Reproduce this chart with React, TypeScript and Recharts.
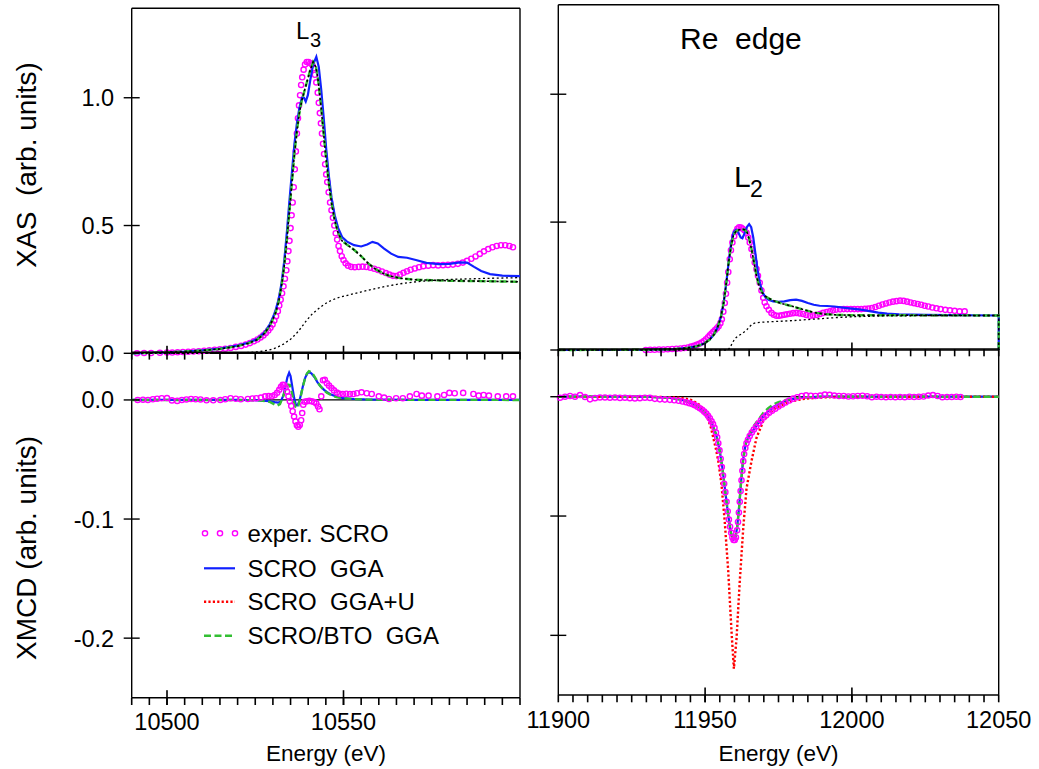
import React from 'react';
import { ComposedChart, Scatter, XAxis, YAxis, ReferenceLine } from 'recharts';

// ---------------------------------------------------------------------------
// Page / style constants
// ---------------------------------------------------------------------------
const W = 1039;
const H = 769;
const FONT = "'Liberation Sans', Arial, Helvetica, sans-serif";
const INK = '#000000';
const MAGENTA = '#ff00ff';
const BLUE = '#1020ff';
const RED = '#ff0000';
const GREEN = '#33bf33';

type Pt = [number, number];

// ---------------------------------------------------------------------------
// Axis ticks and labels
// ---------------------------------------------------------------------------
const range = (a: number, b: number, s: number) => {
  const out: number[] = [];
  for (let v = a; v <= b + 1e-9; v += s) out.push(Math.round(v * 1000) / 1000);
  return out;
};

const l3Domain: [number, number] = [10490, 10600];
const l3Minor = range(10490, 10600, 5);
const l3Major = [10500, 10550];
const l3Labels = [10500, 10550];

const l2Domain: [number, number] = [11900, 12050];
const l2Minor = range(11900, 12050, 5);
const l2Major = [11950, 12000];
const l2Labels = [11900, 11950, 12000, 12050];

const xasDomain: [number, number] = [0, 1.35];
const xasTicks = [0, 0.5, 1.0];
const xmcdDomain: [number, number] = [-0.25, 0.04];
const xmcdTicks = [0, -0.1, -0.2];

// ---------------------------------------------------------------------------
// L3 edge, XAS
// ---------------------------------------------------------------------------
const xasL3Exp: Pt[] = [
  [10491.5, 0.0], [10493.5, 0.001], [10495.5, 0.001], [10498, 0.002], [10500, 0.003],
  [10501.5, 0.003], [10503, 0.004], [10504.5, 0.005], [10506, 0.006], [10507.5, 0.007],
  [10509, 0.008], [10510.5, 0.01], [10512, 0.012], [10513.5, 0.014], [10515, 0.016],
  [10516.5, 0.018], [10518, 0.021], [10519.5, 0.025], [10521, 0.029], [10522.3, 0.034],
  [10523.5, 0.04], [10524.6, 0.047], [10525.6, 0.054], [10526.5, 0.062], [10527.3, 0.07],
  [10528, 0.079], [10528.7, 0.089], [10529.3, 0.1], [10529.9, 0.113], [10530.4, 0.128],
  [10530.9, 0.145], [10531.4, 0.165], [10531.8, 0.187], [10532.2, 0.21], [10532.6, 0.235],
  [10533, 0.262], [10533.4, 0.292], [10533.8, 0.325], [10534.1, 0.36], [10534.4, 0.4],
  [10534.7, 0.44], [10535, 0.49], [10535.3, 0.54], [10535.6, 0.59], [10535.9, 0.65],
  [10536.2, 0.72], [10536.5, 0.79], [10536.8, 0.86], [10537.1, 0.92], [10537.4, 0.97],
  [10537.7, 1.01], [10538, 1.05], [10538.3, 1.08], [10538.7, 1.11], [10539.1, 1.13],
  [10539.6, 1.14], [10540.1, 1.14], [10540.6, 1.135], [10541.1, 1.13], [10541.5, 1.115],
  [10541.9, 1.09], [10542.3, 1.06], [10542.7, 1.02], [10543, 0.98], [10543.3, 0.94],
  [10543.6, 0.9], [10543.9, 0.86], [10544.2, 0.82], [10544.5, 0.78], [10544.8, 0.74],
  [10545.1, 0.7], [10545.4, 0.67], [10545.8, 0.63], [10546.2, 0.59], [10546.6, 0.56],
  [10547, 0.53], [10547.4, 0.5], [10547.8, 0.47], [10548.2, 0.445], [10548.6, 0.42],
  [10549, 0.4], [10549.5, 0.38], [10550, 0.365], [10550.6, 0.352], [10551.3, 0.343],
  [10552.2, 0.338], [10553.2, 0.337], [10554.3, 0.338], [10555.4, 0.339], [10556.5, 0.338],
  [10557.6, 0.335], [10558.7, 0.331], [10559.8, 0.326], [10560.9, 0.32], [10562, 0.314],
  [10563, 0.308], [10564, 0.303], [10565, 0.302], [10566, 0.308], [10567, 0.315],
  [10568, 0.321], [10569, 0.327], [10570.2, 0.332], [10571.4, 0.337], [10572.6, 0.341],
  [10574, 0.343], [10575.4, 0.345], [10576.8, 0.344], [10578.2, 0.345], [10579.6, 0.346],
  [10581, 0.347], [10582.4, 0.35], [10583.8, 0.355], [10585, 0.362], [10586.2, 0.37],
  [10587.4, 0.379], [10588.6, 0.389], [10589.8, 0.399], [10591, 0.408], [10592.2, 0.415],
  [10593.4, 0.42], [10594.6, 0.423], [10595.8, 0.423], [10597, 0.42], [10598, 0.415],
];

const xasL3Gga: Pt[] = [
  [10490, 0], [10495, 0.002], [10500, 0.004], [10505, 0.007], [10510, 0.012], [10515, 0.018],
  [10520, 0.03], [10523, 0.041], [10525.5, 0.056], [10527.5, 0.08], [10529, 0.11], [10530, 0.14],
  [10530.8, 0.17], [10531.6, 0.21], [10532.4, 0.27], [10533.2, 0.36], [10534, 0.48], [10534.7, 0.6],
  [10535.4, 0.71], [10536.1, 0.82], [10536.8, 0.9], [10537.5, 0.96], [10538.2, 1.0], [10538.8, 1.0],
  [10539.3, 0.985], [10539.9, 1.01], [10540.6, 1.07], [10541.4, 1.13], [10542.3, 1.16], [10543, 1.12],
  [10543.7, 1.03], [10544.4, 0.92], [10545.1, 0.8], [10545.8, 0.7], [10546.6, 0.61], [10547.5, 0.54],
  [10548.5, 0.49], [10549.6, 0.455], [10551, 0.437], [10553, 0.423], [10555, 0.418], [10556.7, 0.426],
  [10558.2, 0.436], [10559.7, 0.43], [10561.5, 0.41], [10563.5, 0.39], [10565.5, 0.377], [10568, 0.374],
  [10570.5, 0.365], [10573.5, 0.354], [10577, 0.349], [10580, 0.35], [10583, 0.356], [10585, 0.355],
  [10587, 0.338], [10589, 0.322], [10591.5, 0.31], [10595, 0.304], [10600, 0.302],
];

const xasL3Bto: Pt[] = [
  [10490, 0], [10495, 0.002], [10500, 0.004], [10505, 0.007], [10510, 0.011], [10515, 0.017],
  [10520, 0.028], [10523, 0.039], [10525.5, 0.053], [10527.5, 0.076], [10529, 0.105], [10530, 0.133],
  [10530.8, 0.16], [10531.6, 0.2], [10532.4, 0.26], [10533.2, 0.34], [10534, 0.45], [10534.7, 0.56],
  [10535.4, 0.67], [10536.1, 0.78], [10536.8, 0.87], [10537.5, 0.94], [10538.2, 0.99], [10539, 1.03],
  [10539.8, 1.07], [10540.6, 1.11], [10541.4, 1.14], [10542.2, 1.12], [10542.9, 1.06], [10543.6, 0.97],
  [10544.3, 0.87], [10545, 0.77], [10545.8, 0.67], [10546.6, 0.59], [10547.5, 0.52], [10548.5, 0.47],
  [10549.6, 0.44], [10551, 0.425], [10553, 0.405], [10555, 0.38], [10557, 0.352], [10559, 0.33],
  [10561, 0.314], [10563, 0.303], [10566, 0.294], [10570, 0.288], [10575, 0.286], [10580, 0.284],
  [10590, 0.282], [10600, 0.28],
];

const xasL3Step: Pt[] = [
  [10490, 0], [10515, 0], [10522, 0.002], [10526, 0.006], [10529, 0.013], [10531, 0.022],
  [10533, 0.036], [10535, 0.055], [10536.5, 0.075], [10538, 0.1], [10539.5, 0.128], [10541, 0.152],
  [10542.5, 0.17], [10544, 0.186], [10545.5, 0.2], [10547, 0.21], [10549, 0.22], [10552, 0.23],
  [10555, 0.24], [10558, 0.25], [10562, 0.262], [10566, 0.272], [10570, 0.279], [10575, 0.285],
  [10580, 0.289], [10590, 0.293], [10600, 0.296],
];

// ---------------------------------------------------------------------------
// L3 edge, XMCD
// ---------------------------------------------------------------------------
const xmcdL3Exp: Pt[] = [
  [10491.7, 0.0], [10493.2, 0.0002], [10494.6, 0.0], [10496, 0.0006], [10497.2, 0.001],
  [10498.5, 0.0014], [10500, 0.0016], [10501.4, -0.0004], [10502.9, -0.0008], [10504.2, 0.0],
  [10505.5, 0.0004], [10506.8, 0.0008], [10508.1, 0.0006], [10509.5, 0.0004], [10511.2, -0.0003],
  [10513.1, -0.0003], [10515.1, 0.0], [10516.5, 0.0006], [10518, 0.0014], [10519.5, 0.001],
  [10520.9, 0.0006], [10522.9, 0.0008], [10524.2, 0.0012], [10525.3, 0.0014], [10526.6, 0.002],
  [10527.8, 0.003], [10528.8, 0.0032], [10529.7, 0.0031], [10530.5, 0.0042], [10531.2, 0.006],
  [10531.8, 0.0085], [10532.3, 0.011], [10532.8, 0.0128], [10533.2, 0.0125], [10533.6, 0.0105],
  [10534, 0.007], [10534.4, 0.003], [10534.8, -0.001], [10535.2, -0.005], [10535.6, -0.0095],
  [10536, -0.014], [10536.4, -0.018], [10536.8, -0.0212], [10537.2, -0.0225], [10537.6, -0.021],
  [10538, -0.017], [10538.3, -0.011], [10538.6, -0.004], [10539, -0.0015], [10539.6, -0.0012],
  [10540.3, -0.0008], [10541, -0.0012], [10541.7, -0.0018], [10542.3, -0.003], [10542.8, -0.0055],
  [10543.2, -0.0078], [10543.7, 0.003], [10544.2, 0.0165], [10544.7, 0.017], [10545.3, 0.014],
  [10545.9, 0.012], [10546.6, 0.01], [10547.3, 0.008], [10548.1, 0.0062], [10548.9, 0.0052],
  [10549.8, 0.005], [10550.8, 0.0052], [10551.8, 0.005], [10552.8, 0.005], [10553.8, 0.0056],
  [10555.1, 0.0064], [10556.6, 0.0056], [10558, 0.005], [10560, 0.003], [10561.5, 0.002],
  [10562.9, 0.0008], [10564.9, 0.0014], [10566.8, 0.0014], [10568.8, 0.003], [10570.7, 0.005],
  [10572.2, 0.0036], [10574.1, 0.0036], [10576.6, 0.003], [10578.5, 0.0042], [10580, 0.0059],
  [10581.5, 0.0056], [10583.9, 0.0059], [10586.8, 0.005], [10588.3, 0.0036], [10589.7, 0.0042],
  [10591.2, 0.0036], [10593.7, 0.003], [10596.1, 0.003], [10598, 0.003],
];

const xmcdL3Gga: Pt[] = [
  [10490, 0], [10520, 0], [10526, -0.0003], [10529, -0.001], [10530.5, -0.0018], [10531.5, -0.0022],
  [10532.2, -0.0015], [10533, 0.004], [10533.6, 0.012], [10534.1, 0.019], [10534.6, 0.0228],
  [10535, 0.02], [10535.5, 0.011], [10536, 0.002], [10536.5, -0.004], [10537, -0.0045],
  [10537.5, -0.001], [10538, 0.005], [10538.6, 0.013], [10539.2, 0.019], [10539.8, 0.0225],
  [10540.4, 0.0234], [10541, 0.022], [10541.8, 0.019], [10542.6, 0.015], [10543.5, 0.0115],
  [10544.5, 0.0085], [10545.5, 0.0062], [10546.5, 0.0045], [10548, 0.0028], [10550, 0.0016],
  [10553, 0.0008], [10556, 0.0004], [10560, 0.0002], [10570, 0.0001], [10600, 0],
];

const xmcdL3Bto: Pt[] = [
  [10490, 0], [10520, 0], [10526, -0.0004], [10529, -0.0015], [10530.3, -0.0035], [10531.2, -0.0048],
  [10532, -0.0035], [10532.8, 0.002], [10533.6, 0.009], [10534.3, 0.0128], [10534.8, 0.0125],
  [10535.3, 0.007], [10535.8, 0.0], [10536.3, -0.0055], [10536.7, -0.0068], [10537.2, -0.005],
  [10537.8, 0.002], [10538.4, 0.01], [10539, 0.017], [10539.6, 0.022], [10540.2, 0.0242],
  [10540.8, 0.0235], [10541.5, 0.021], [10542.3, 0.017], [10543.2, 0.0125], [10544.2, 0.0088],
  [10545.3, 0.006], [10546.5, 0.004], [10548, 0.0024], [10550, 0.0014], [10553, 0.0007],
  [10557, 0.0003], [10565, 0.0001], [10600, 0],
];

// ---------------------------------------------------------------------------
// L2 edge, XAS
// ---------------------------------------------------------------------------
const xasL2Exp: Pt[] = [
  [11929.8, 0.0], [11931.3, 0.001], [11932.8, 0.001], [11934.3, 0.002], [11935.8, 0.002],
  [11937.3, 0.003], [11938.8, 0.004], [11940.2, 0.005], [11941.6, 0.006], [11942.9, 0.008],
  [11944.1, 0.01], [11945.2, 0.013], [11946.2, 0.016], [11947.1, 0.02], [11948, 0.024],
  [11948.8, 0.029], [11949.6, 0.035], [11950.3, 0.042], [11951, 0.05], [11951.6, 0.057],
  [11952.2, 0.064], [11952.8, 0.071], [11953.4, 0.078], [11954, 0.085], [11954.6, 0.093],
  [11955.2, 0.105], [11955.7, 0.12], [11956.2, 0.15], [11956.7, 0.184], [11957.1, 0.22],
  [11957.5, 0.263], [11957.9, 0.305], [11958.4, 0.355], [11958.8, 0.39], [11959.3, 0.42],
  [11959.9, 0.445], [11960.5, 0.462], [11961, 0.474], [11961.6, 0.48], [11962.2, 0.479],
  [11962.8, 0.474], [11963.4, 0.468], [11964.1, 0.458], [11964.7, 0.44], [11965.2, 0.42],
  [11965.8, 0.395], [11966.4, 0.368], [11966.9, 0.342], [11967.5, 0.316], [11968, 0.29],
  [11968.6, 0.263], [11969.2, 0.233], [11969.8, 0.204], [11970.3, 0.186], [11970.9, 0.171],
  [11971.7, 0.157], [11972.6, 0.145], [11973.4, 0.138], [11974.3, 0.134], [11975.2, 0.134],
  [11976.1, 0.136], [11977, 0.138], [11977.9, 0.14], [11978.9, 0.142], [11980, 0.144],
  [11981.1, 0.145], [11982.2, 0.143], [11983.4, 0.141], [11984.5, 0.137], [11985.7, 0.134],
  [11986.8, 0.135], [11988, 0.137], [11989.1, 0.141], [11990.2, 0.145], [11991.4, 0.148],
  [11992.5, 0.151], [11993.6, 0.155], [11994.7, 0.158], [11996, 0.159], [11997.2, 0.16],
  [11998.4, 0.16], [11999.6, 0.16], [12000.8, 0.16], [12002, 0.16], [12003.2, 0.16],
  [12004.4, 0.161], [12005.6, 0.162], [12006.8, 0.164], [12008, 0.168], [12009.2, 0.173],
  [12010.4, 0.178], [12011.6, 0.182], [12012.8, 0.186], [12014, 0.189], [12015.2, 0.191],
  [12016.4, 0.193], [12017.6, 0.192], [12018.8, 0.189], [12020, 0.186], [12021.2, 0.183],
  [12022.4, 0.18], [12023.6, 0.177], [12024.8, 0.173], [12026, 0.17], [12027.4, 0.166],
  [12028.8, 0.163], [12030.2, 0.16], [12031.8, 0.157], [12033.4, 0.155], [12035, 0.153],
  [12036.7, 0.151], [12038.4, 0.151],
];

const xasL2Gga: Pt[] = [
  [11900, 0], [11930, 0.001], [11940, 0.004], [11944, 0.008], [11947, 0.014], [11949.5, 0.024],
  [11951.5, 0.04], [11953, 0.06], [11954.3, 0.09], [11955.4, 0.13], [11956.4, 0.19], [11957.3, 0.27],
  [11958.1, 0.35], [11958.9, 0.42], [11959.7, 0.46], [11960.5, 0.47], [11961.3, 0.46], [11962.1, 0.44],
  [11962.7, 0.437], [11963.4, 0.455], [11964.3, 0.482], [11965, 0.492], [11965.7, 0.48], [11966.4, 0.44],
  [11967.1, 0.38], [11967.9, 0.31], [11968.7, 0.26], [11969.6, 0.225], [11970.6, 0.205], [11971.8, 0.195],
  [11973.2, 0.19], [11975, 0.188], [11977, 0.19], [11979, 0.195], [11981, 0.197], [11983, 0.192],
  [11985, 0.184], [11987, 0.177], [11989, 0.173], [11991.5, 0.172], [11994, 0.17], [11997, 0.166],
  [12000, 0.162], [12003, 0.158], [12006, 0.152], [12009, 0.146], [12012, 0.142], [12016, 0.139],
  [12025, 0.137], [12050, 0.135], [12050, 0],
];

const xasL2Bto: Pt[] = [
  [11900, 0], [11930, 0.001], [11940, 0.004], [11944, 0.008], [11947, 0.014], [11949.5, 0.024],
  [11951.5, 0.04], [11953, 0.06], [11954.3, 0.09], [11955.4, 0.13], [11956.4, 0.19], [11957.3, 0.27],
  [11958.1, 0.35], [11958.9, 0.41], [11959.7, 0.45], [11960.6, 0.465], [11961.6, 0.47], [11962.6, 0.472],
  [11963.5, 0.47], [11964.3, 0.46], [11965.1, 0.43], [11965.9, 0.39], [11966.7, 0.34], [11967.5, 0.29],
  [11968.4, 0.25], [11969.4, 0.225], [11970.5, 0.21], [11972, 0.2], [11974, 0.19], [11976, 0.182],
  [11978, 0.176], [11980, 0.17], [11982, 0.163], [11984, 0.156], [11986, 0.15], [11988, 0.145],
  [11991, 0.14], [11995, 0.137], [12000, 0.136], [12050, 0.135], [12050, 0],
];

const xasL2Step: Pt[] = [
  [11900, 0], [11957.8, 0], [11958.6, 0.012], [11959.4, 0.03], [11960.2, 0.045], [11961.2, 0.055],
  [11962.3, 0.062], [11963.3, 0.07], [11964.3, 0.08], [11965.3, 0.093], [11966.3, 0.103],
  [11967.5, 0.107], [11970, 0.109], [11975, 0.112], [11980, 0.115], [11985, 0.119], [11990, 0.123],
  [11995, 0.127], [12000, 0.13], [12010, 0.133], [12020, 0.134], [12050, 0.135],
];

// ---------------------------------------------------------------------------
// L2 edge, XMCD
// ---------------------------------------------------------------------------
const xmcdL2Exp: Pt[] = [
  [11900.6, -0.0008], [11902.3, 0.0], [11904, 0.0006], [11905.7, 0.0], [11907.4, 0.0014],
  [11909.1, -0.0002], [11910.8, -0.0022], [11912.5, -0.0012], [11914.2, -0.0006], [11915.9, -0.0006],
  [11917.6, -0.0008], [11919.3, -0.0006], [11921, -0.001], [11922.7, -0.0008], [11924.4, -0.0012],
  [11926.1, -0.0014], [11927.8, -0.0012], [11929.5, -0.0008], [11931.2, -0.001], [11932.9, -0.0018],
  [11934.6, -0.0022], [11936.3, -0.0024], [11938, -0.0026], [11939.5, -0.003], [11941, -0.0034],
  [11942.3, -0.004], [11943.5, -0.0046], [11944.6, -0.0054], [11945.6, -0.0062], [11946.5, -0.0072],
  [11947.4, -0.0084], [11948.2, -0.0096], [11949, -0.011], [11949.7, -0.0125], [11950.4, -0.014],
  [11951, -0.016], [11951.6, -0.018], [11952.2, -0.0205], [11952.7, -0.023], [11953.2, -0.026],
  [11953.7, -0.03], [11954.1, -0.034], [11954.5, -0.039], [11954.9, -0.045], [11955.3, -0.052],
  [11955.7, -0.059], [11956.1, -0.066], [11956.5, -0.073], [11956.9, -0.08], [11957.3, -0.088],
  [11957.7, -0.096], [11958.1, -0.103], [11958.5, -0.109], [11958.9, -0.114], [11959.3, -0.118],
  [11959.7, -0.12], [11960.1, -0.12], [11960.5, -0.118], [11960.9, -0.112], [11961.2, -0.105],
  [11961.5, -0.097], [11961.8, -0.088], [11962.1, -0.079], [11962.4, -0.07], [11962.7, -0.062],
  [11963, -0.054], [11963.3, -0.048], [11963.7, -0.043], [11964.1, -0.039], [11964.6, -0.036],
  [11965.2, -0.033], [11965.9, -0.03], [11966.6, -0.0275], [11967.4, -0.025], [11968.2, -0.0225],
  [11969, -0.02], [11969.9, -0.0175], [11970.8, -0.0155], [11971.8, -0.0135], [11972.8, -0.0117],
  [11973.9, -0.01], [11975, -0.0082], [11976.2, -0.0065], [11977.4, -0.0048], [11978.7, -0.0032],
  [11980, -0.0016], [11981.4, -0.0004], [11982.9, 0.0006], [11984.4, 0.0012], [11986, 0.0008],
  [11987.6, 0.0006], [11989.2, 0.001], [11990.8, 0.0018], [11992.4, 0.0016], [11994, 0.001],
  [11995.6, 0.0006], [11997.2, 0.0006], [11998.8, 0.0002], [12000.4, 0.0004], [12002, 0.0006],
  [12003.6, 0.0008], [12005.2, 0.0004], [12006.8, -0.0004], [12008.4, 0.0], [12010, -0.0002],
  [12011.6, -0.0004], [12013.2, -0.0002], [12014.8, -0.0004], [12016.4, -0.0002], [12018, -0.0004],
  [12019.6, 0.0], [12021.2, -0.0002], [12022.8, 0.0], [12024.4, 0.0002], [12026, 0.001],
  [12027.6, 0.0014], [12029.2, 0.0006], [12030.8, -0.0004], [12032.4, -0.0002], [12034, -0.0002],
  [12035.6, 0.0], [12037, -0.0002],
];

const xmcdL2Gga: Pt[] = [
  [11900, 0], [11930, 0], [11938, -0.001], [11942, -0.0025], [11945, -0.005], [11947.5, -0.008],
  [11949.5, -0.012], [11951.2, -0.017], [11952.6, -0.024], [11953.8, -0.032], [11954.8, -0.043],
  [11955.8, -0.058], [11956.8, -0.078], [11957.8, -0.098], [11958.7, -0.113], [11959.5, -0.12],
  [11960.2, -0.119], [11960.9, -0.11], [11961.6, -0.092], [11962.3, -0.07], [11963, -0.052],
  [11963.8, -0.04], [11964.7, -0.034], [11965.8, -0.03], [11967, -0.026], [11968.5, -0.021],
  [11970, -0.016], [11971.5, -0.012], [11973, -0.009], [11975, -0.006], [11977, -0.0038],
  [11980, -0.0018], [11984, -0.0006], [11990, 0], [12050, 0],
];

const xmcdL2GgaU: Pt[] = [
  [11900, 0], [11930, 0], [11938, -0.0004], [11942, -0.001], [11945, -0.0025], [11947.5, -0.0055],
  [11949.5, -0.0105], [11951, -0.019], [11952, -0.026], [11952.8, -0.0345], [11953.7, -0.044],
  [11954.5, -0.054], [11955.6, -0.074], [11956.7, -0.105], [11957.9, -0.147], [11959, -0.197],
  [11959.8, -0.228], [11960.7, -0.203], [11961.8, -0.155], [11963, -0.11], [11964.1, -0.077],
  [11965.8, -0.054], [11967.5, -0.0345], [11969.8, -0.0205], [11973.2, -0.0107], [11977.7, -0.005],
  [11983, -0.002], [11988, -0.0008], [11995, -0.0002], [12005, 0], [12050, 0],
];

const xmcdL2Bto: Pt[] = [
  [11900, 0], [11930, 0], [11938, -0.001], [11942, -0.0025], [11945, -0.005], [11947.5, -0.008],
  [11949.5, -0.012], [11951.2, -0.017], [11952.6, -0.024], [11953.8, -0.032], [11954.8, -0.043],
  [11955.8, -0.058], [11956.8, -0.078], [11957.8, -0.098], [11958.7, -0.113], [11959.5, -0.12],
  [11960.2, -0.119], [11960.9, -0.11], [11961.6, -0.092], [11962.3, -0.07], [11963, -0.052],
  [11963.8, -0.04], [11964.7, -0.033], [11965.8, -0.028], [11967, -0.023], [11968.5, -0.018],
  [11970, -0.013], [11971.5, -0.0095], [11973, -0.0068], [11975, -0.0045], [11977, -0.003],
  [11980, -0.0014], [11984, -0.0005], [11990, 0], [12050, 0],
];

// ---------------------------------------------------------------------------
// Legend entries
// ---------------------------------------------------------------------------
const legendNames = ['exper. SCRO', 'SCRO  GGA', 'SCRO  GGA+U', 'SCRO/BTO  GGA'];

// ---------------------------------------------------------------------------
// Line styles
// ---------------------------------------------------------------------------
type LineStyle = { stroke: string; width: number; dash?: string };
const styleGga: LineStyle = { stroke: BLUE, width: 2.2 };
const styleGgaU: LineStyle = { stroke: RED, width: 2.4, dash: '2.2 2.2' };
const styleBto: LineStyle = { stroke: GREEN, width: 2.4, dash: '7 3.5' };
const styleBtoDots: LineStyle = { stroke: INK, width: 1.6, dash: '2.4 2.4' };
const styleStep: LineStyle = { stroke: INK, width: 1.3, dash: '2 2.6' };

interface Series {
  data: Pt[];
  style?: LineStyle;
  dots?: boolean;
}

interface Rect {
  x: number;
  y: number;
  w: number;
  h: number;
}

interface PanelProps {
  rect: Rect;
  xDomain: [number, number];
  xMinor: number[];
  xMajor: number[];
  xLabels: number[];
  yDomain: [number, number];
  yTicks: number[];
  yLabels: boolean;
  kind: 'xas' | 'xmcd';
  series: Series[];
  labelOffset: number;
}

const toRows = (pts: Pt[]) => pts.map(([e, v]) => ({ e, v }));

const Ring = (p: any) =>
  p.cx == null || p.cy == null ? (
    <g />
  ) : (
    <circle cx={p.cx} cy={p.cy} r={2.6} fill="none" stroke={MAGENTA} strokeWidth={1.4} />
  );
const NoMark = () => <g />;

const TICK_W = 1.6;
const LABEL_SIZE = 23.5;
// axes take one pixel of room each; the margins below leave the plot area at rect
const AX = 1;

// tick mark lengths, px
const TICK_IN = 7.5;
const TICK_OUT = 7.3;

// a tick mark drawn at a point of the x axis: `up` px above it, `down` px below it
const tickShape = (up: number, down: number) => (props: any) => {
  const cx = Number(props.cx);
  const cy = Number(props.cy);
  if (!isFinite(cx) || !isFinite(cy)) return <g />;
  return (
    <rect x={cx - TICK_W / 2} y={cy - up} width={TICK_W} height={up + down} fill={INK} stroke="none" />
  );
};

function Panel(p: PanelProps) {
  const { rect } = p;
  const margin = {
    left: rect.x - AX,
    top: rect.y - AX,
    right: W - rect.x - rect.w - AX,
    bottom: H - rect.y - rect.h - AX,
  };
  const axisLine = { stroke: INK, strokeWidth: 1.4 };
  const tickLine = { stroke: INK, strokeWidth: TICK_W };
  const plotBottom = rect.y + rect.h;
  const yLo = p.yDomain[0];
  const yHi = p.yDomain[1];
  const isXmcd = p.kind === 'xmcd';

  // tick rows: positions along the x axis at the bottom / top edges
  const majorBottom = p.xMajor.map((e) => ({ e, v: yLo }));
  const topRow = p.xMinor.map((e) => ({ e, v: yHi }));

  // labels under the bottom axis
  const bottomTick = (t: any) => {
    const v = t.payload.value;
    if (!isXmcd || !p.xLabels.includes(v)) return <g />;
    return (
      <text
        x={Number(t.x)}
        y={plotBottom + p.labelOffset}
        dy="0.36em"
        textAnchor="middle"
        fontSize={LABEL_SIZE}
        fontFamily={FONT}
        fill={INK}
      >
        {v}
      </text>
    );
  };

  const leftTick = (t: any) => {
    const v = t.payload.value as number;
    return (
      <g>
        <line x1={t.x - 8} x2={t.x + 8} y1={t.y} y2={t.y} stroke={INK} strokeWidth={1.4} />
        {p.yLabels && (
          <text
            x={t.x - 17.5}
            y={t.y}
            dy="0.36em"
            textAnchor="end"
            fontSize={LABEL_SIZE}
            fontFamily={FONT}
            fill={INK}
          >
            {v.toFixed(1)}
          </text>
        )}
      </g>
    );
  };

  return (
    <div style={{ position: 'absolute', left: 0, top: 0, width: W, height: H }}>
      <ComposedChart width={W} height={H} margin={margin}>
        <XAxis
          xAxisId="b"
          type="number"
          dataKey="e"
          domain={p.xDomain}
          orientation="bottom"
          height={AX}
          ticks={isXmcd ? p.xMinor : p.xLabels}
          interval={0}
          tickSize={isXmcd ? TICK_OUT : 0}
          tickMargin={0}
          tickLine={isXmcd ? tickLine : false}
          axisLine={axisLine}
          tick={bottomTick}
        />
        <XAxis
          xAxisId="t"
          type="number"
          dataKey="e"
          domain={p.xDomain}
          orientation="top"
          mirror
          height={AX}
          ticks={p.xMinor}
          interval={0}
          tickSize={isXmcd ? TICK_OUT : 0}
          tickMargin={0}
          tickLine={isXmcd ? tickLine : false}
          axisLine={axisLine}
          tick={() => <g />}
        />
        <YAxis
          yAxisId="l"
          type="number"
          dataKey="v"
          domain={p.yDomain}
          width={AX}
          ticks={p.yTicks}
          interval={0}
          tickSize={0}
          tickMargin={0}
          tickLine={false}
          axisLine={axisLine}
          tick={leftTick}
        />
        <YAxis
          yAxisId="r"
          orientation="right"
          type="number"
          dataKey="v"
          domain={p.yDomain}
          width={AX}
          ticks={p.yTicks}
          interval={0}
          tickSize={0}
          tickLine={false}
          axisLine={axisLine}
          tick={() => <g />}
        />
        {isXmcd && <ReferenceLine xAxisId="b" yAxisId="l" y={0} stroke={INK} strokeWidth={1.3} />}
        {p.series.map((s, i) =>
          s.dots ? (
            <Scatter
              key={i}
              xAxisId="b"
              yAxisId="l"
              data={toRows(s.data)}
              dataKey="v"
              shape={Ring}
              isAnimationActive={false}
            />
          ) : (
            <Scatter
              key={i}
              xAxisId="b"
              yAxisId="l"
              data={toRows(s.data)}
              dataKey="v"
              shape={NoMark}
              fill="none"
              line={{
                stroke: s.style!.stroke,
                strokeWidth: s.style!.width,
                strokeDasharray: s.style!.dash,
                fill: 'none',
              }}
              lineJointType="linear"
              isAnimationActive={false}
            />
          ),
        )}
        {/* inward major ticks on the bottom edge, inward ticks on the top edge */}
        <Scatter
          xAxisId="b"
          yAxisId="l"
          data={majorBottom}
          dataKey="v"
          shape={tickShape(TICK_IN, isXmcd ? TICK_OUT : 0)}
          isAnimationActive={false}
        />
        {isXmcd && (
          <Scatter
            xAxisId="b"
            yAxisId="l"
            data={topRow}
            dataKey="v"
            shape={tickShape(0, TICK_OUT)}
            isAnimationActive={false}
          />
        )}
      </ComposedChart>
    </div>
  );
}

// panel rectangles (plot areas)
const rectL3Xas: Rect = { x: 131.7, y: 9.3, w: 388.3, h: 344.0 };
const rectL3Xmcd: Rect = { x: 131.7, y: 353.3, w: 388.3, h: 344.4 };
const rectL2Xas: Rect = { x: 558.3, y: 5.7, w: 440.4, h: 344.3 };
const rectL2Xmcd: Rect = { x: 558.3, y: 350, w: 440.4, h: 345 };

function Annotations() {
  const txt = { fontFamily: FONT, fill: INK } as const;
  const rows = [533.3, 568.3, 601.7, 635.7];
  const symX0 = 204;
  const symX1 = 235;
  return (
    <svg
      width={W}
      height={H}
      style={{ position: 'absolute', left: 0, top: 0, pointerEvents: 'none' }}
      xmlSpace="preserve"
    >
      {/* axis titles */}
      <text
        {...txt}
        fontSize={28}
        textAnchor="middle"
        dy="0.36em"
        transform="translate(26,165) rotate(-90)"
        style={{ whiteSpace: 'pre' }}
      >
        {'XAS  (arb. units)'}
      </text>
      <text
        {...txt}
        fontSize={28}
        textAnchor="middle"
        dy="0.36em"
        transform="translate(26,548) rotate(-90)"
        style={{ whiteSpace: 'pre' }}
      >
        {'XMCD (arb. units)'}
      </text>
      <text {...txt} fontSize={22.5} textAnchor="middle" x={326} y={753.3} dy="0.36em">
        Energy (eV)
      </text>
      <text {...txt} fontSize={22.5} textAnchor="middle" x={778.5} y={753.3} dy="0.36em">
        Energy (eV)
      </text>

      {/* edge labels */}
      <text {...txt} fontSize={24} x={296} y={39.3}>
        L
      </text>
      <text {...txt} fontSize={20} x={310} y={46.5}>
        3
      </text>
      <text {...txt} fontSize={30} x={734} y={186.7}>
        L
      </text>
      <text {...txt} fontSize={23} x={750} y={196.7}>
        2
      </text>
      <text {...txt} fontSize={30} x={680} y={49.3} style={{ whiteSpace: 'pre' }}>
        {'Re  edge'}
      </text>

      {/* legend */}
      {[205, 220, 235].map((cx) => (
        <circle key={cx} cx={cx} cy={rows[0]} r={2.6} fill="none" stroke={MAGENTA} strokeWidth={1.4} />
      ))}
      <line x1={symX0} x2={symX1} y1={rows[1]} y2={rows[1]} stroke={BLUE} strokeWidth={2.2} />
      <line
        x1={symX0}
        x2={symX1}
        y1={rows[2]}
        y2={rows[2]}
        stroke={RED}
        strokeWidth={2.4}
        strokeDasharray="2.2 2.2"
      />
      <line
        x1={symX0}
        x2={symX1}
        y1={rows[3]}
        y2={rows[3]}
        stroke={GREEN}
        strokeWidth={2.4}
        strokeDasharray="7 3.5"
      />
      {legendNames.map((name, i) => (
        <text
          key={name}
          {...txt}
          fontSize={24}
          x={247.4}
          y={rows[i]}
          dy="0.36em"
          style={{ whiteSpace: 'pre' }}
        >
          {name}
        </text>
      ))}
    </svg>
  );
}

export default function App() {
  return (
    <div
      style={{
        position: 'absolute',
        left: 0,
        top: 0,
        width: W,
        height: H,
        background: '#ffffff',
        overflow: 'hidden',
      }}
    >
      <Panel
        rect={rectL3Xas}
        xDomain={l3Domain}
        xMinor={l3Minor}
        xMajor={l3Major}
        xLabels={l3Labels}
        yDomain={xasDomain}
        yTicks={xasTicks}
        yLabels
        kind="xas"
        labelOffset={24.3}
        series={[
          { data: xasL3Exp, dots: true },
          { data: xasL3Gga, style: styleGga },
          { data: xasL3Bto, style: styleBto },
          { data: xasL3Bto, style: styleBtoDots },
          { data: xasL3Step, style: styleStep },
        ]}
      />
      <Panel
        rect={rectL3Xmcd}
        xDomain={l3Domain}
        xMinor={l3Minor}
        xMajor={l3Major}
        xLabels={l3Labels}
        yDomain={xmcdDomain}
        yTicks={xmcdTicks}
        yLabels
        kind="xmcd"
        labelOffset={24.3}
        series={[
          { data: xmcdL3Gga, style: styleGga },
          { data: xmcdL3Bto, style: styleBto },
          { data: xmcdL3Exp, dots: true },
        ]}
      />
      <Panel
        rect={rectL2Xas}
        xDomain={l2Domain}
        xMinor={l2Minor}
        xMajor={l2Major}
        xLabels={l2Labels}
        yDomain={xasDomain}
        yTicks={xasTicks}
        yLabels={false}
        kind="xas"
        labelOffset={25}
        series={[
          { data: xasL2Exp, dots: true },
          { data: xasL2Gga, style: styleGga },
          { data: xasL2Bto, style: styleBto },
          { data: xasL2Bto, style: styleBtoDots },
          { data: xasL2Step, style: styleStep },
        ]}
      />
      <Panel
        rect={rectL2Xmcd}
        xDomain={l2Domain}
        xMinor={l2Minor}
        xMajor={l2Major}
        xLabels={l2Labels}
        yDomain={xmcdDomain}
        yTicks={xmcdTicks}
        yLabels={false}
        kind="xmcd"
        labelOffset={25}
        series={[
          { data: xmcdL2Gga, style: styleGga },
          { data: xmcdL2GgaU, style: styleGgaU },
          { data: xmcdL2Bto, style: styleBto },
          { data: xmcdL2Exp, dots: true },
        ]}
      />
      <Annotations />
    </div>
  );
}
